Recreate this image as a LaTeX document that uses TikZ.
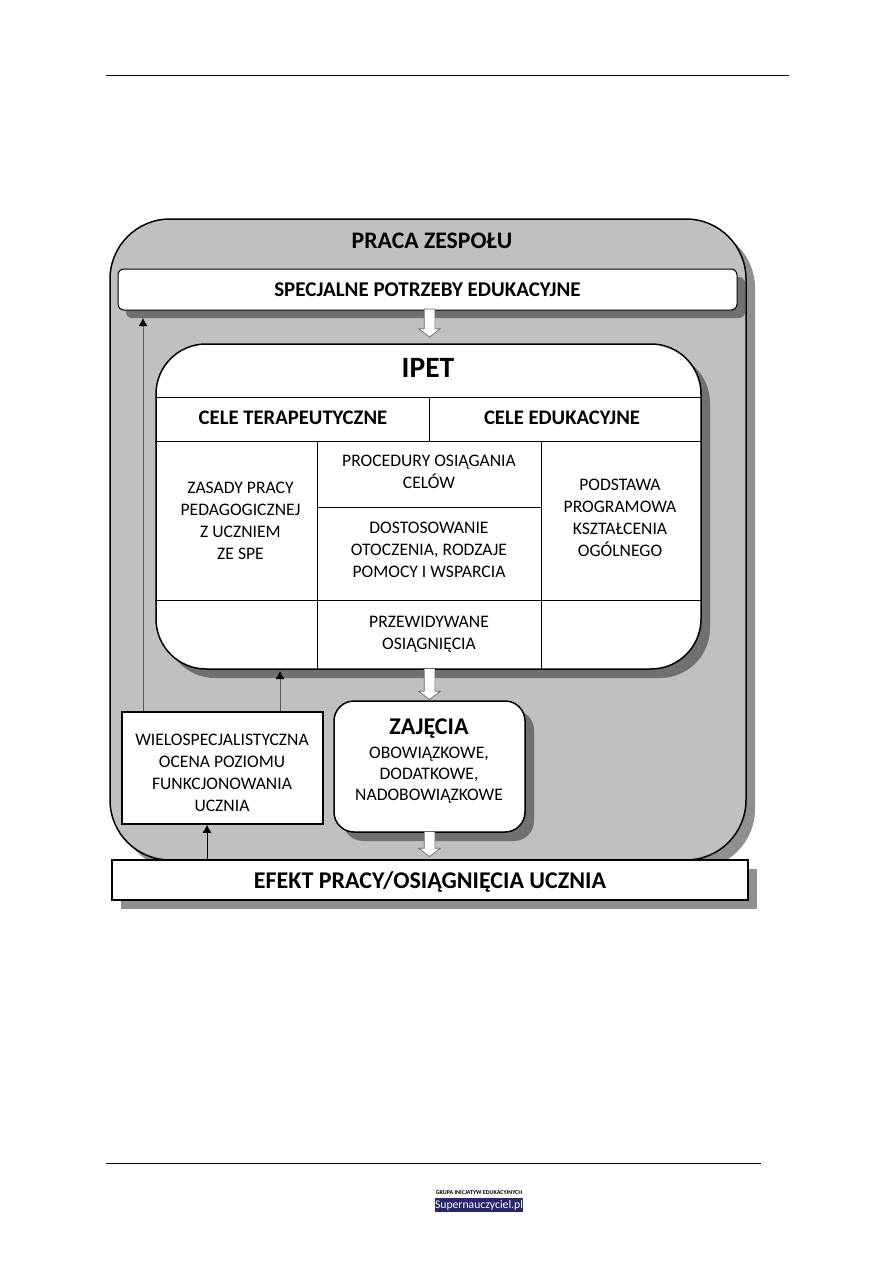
\documentclass[tikz,border=0pt]{standalone}
\usepackage{fontspec}
\setmainfont{Carlito}
\usetikzlibrary{calc,arrows.meta,shapes.arrows,shadows}

\definecolor{panel}{HTML}{C0C0C0}
\definecolor{lightshadow}{HTML}{909090}
\definecolor{darkshadow}{HTML}{707070}
\definecolor{logoblue}{HTML}{26266E}

\tikzset{
	box/.style={draw,fill=white,rectangle,inner sep=0pt,align=center,line width=1.5pt},
	softshadow/.style={drop shadow={shadow xshift=#1,shadow yshift=-#1,fill=darkshadow,opacity=1}},
	paleshadow/.style={drop shadow={shadow xshift=9pt,shadow yshift=-9pt,fill=lightshadow,opacity=1}},
	plain/.style={font=\fontsize{17.6}{21.8}\selectfont,align=center},
	heading/.style={font=\fontsize{20.7}{24}\selectfont\bfseries,align=center},
	blockarrow/.style={draw=black!60,fill=white,line width=.7pt,shape=single arrow,rotate=-90,inner xsep=0pt,inner ysep=5pt,
		single arrow head extend=5.5pt,single arrow tip angle=105},
	link/.style={line width=1pt,-{Latex[length=8pt,width=9pt,black]}},
	rule/.style={line width=1pt},
}

\begin{document}
\begin{tikzpicture}[x=1pt,y=-1pt]
	\useasboundingbox (0,0) rectangle (893,1263);

	\coordinate (ruleTopA) at (106,75);
	\coordinate (ruleTopB) at (789,75);
	\coordinate (ruleBotA) at (106,1163);
	\coordinate (ruleBotB) at (761,1163);
	\draw[rule] (ruleTopA) -- (ruleTopB); %page header
	\draw[rule] (ruleBotA) -- (ruleBotB); %page footer

	\node[box,paleshadow,fill=panel,rounded corners=60pt,minimum width=636pt,minimum height=641pt] (zespol) at (428,539.5) {};
	\node[heading,font=\fontsize{23.7}{26}\selectfont\bfseries] (zespolLabel) at (432,241) {PRACA ZESPOŁU};

	\node[box,softshadow=8pt,line width=1pt,rounded corners=6pt,minimum width=619pt,minimum height=41pt,
		font=\fontsize{21}{24}\selectfont\bfseries] (spe) at (427.5,289.5) {SPECJALNE POTRZEBY EDUKACYJNE};

	\node[box,softshadow=9pt,rounded corners=50pt,minimum width=545pt,minimum height=325pt] (ipet) at (428.5,506.5) {};
	\node[font=\fontsize{29.5}{34}\selectfont\bfseries] (ipetLabel) at (428,368) {IPET};

	%table inside IPET
	\coordinate (r1) at (0,397);
	\coordinate (r2) at (0,441);
	\coordinate (r3) at (0,507);
	\coordinate (r4) at (0,600);
	\coordinate (c1) at (317,0);
	\coordinate (c2) at (429,0);
	\coordinate (c3) at (541,0);
	\draw[rule] (ipet.west |- r1) -- (ipet.east |- r1);
	\draw[rule] (ipet.west |- r2) -- (ipet.east |- r2);
	\draw[rule] (ipet.west |- r4) -- (ipet.east |- r4);
	\draw[rule] (c1 |- r3) -- (c3 |- r3);
	\draw[rule] (c2 |- r1) -- (c2 |- r2);
	\draw[rule] (c1 |- r2) -- (c1 |- ipet.south);
	\draw[rule] (c3 |- r2) -- (c3 |- ipet.south);

	\node[heading] (celeTer) at (293,418) {CELE TERAPEUTYCZNE};
	\node[heading] (celeEdu) at (562,418) {CELE EDUKACYJNE};
	\node[plain] (zasady) at (240.5,521) {ZASADY PRACY\\PEDAGOGICZNEJ\\Z UCZNIEM\\ZE SPE};
	\node[plain] (procedury) at (429,472) {PROCEDURY OSIĄGANIA\\CELÓW};
	\node[plain] (dostosowanie) at (429,550) {DOSTOSOWANIE\\OTOCZENIA, RODZAJE\\POMOCY I WSPARCIA};
	\node[plain] (podstawa) at (620,518) {PODSTAWA\\PROGRAMOWA\\KSZTAŁCENIA\\OGÓLNEGO};
	\node[plain] (przewidywane) at (429,634) {PRZEWIDYWANE\\OSIĄGNIĘCIA};

	\node[box,minimum width=201pt,minimum height=112pt] (ocena) at (222.5,768) {};
	\node[plain] (ocenaLabel) at (222,773) {WIELOSPECJALISTYCZNA\\OCENA POZIOMU\\FUNKCJONOWANIA\\UCZNIA};

	\node[box,softshadow=9pt,rounded corners=20pt,minimum width=191pt,minimum height=131pt] (zajecia) at (429.5,766.5) {};
	\node[font=\fontsize{24}{27}\selectfont\bfseries] (zajeciaTitle) at (429,729) {ZAJĘCIA};
	\node[plain,font=\fontsize{17.6}{21}\selectfont] (zajeciaLabel) at (429,775) {OBOWIĄZKOWE,\\DODATKOWE,\\NADOBOWIĄZKOWE};

	\node[blockarrow,minimum height=28pt] (strzalkaA) at (429.5,321) {};
	\node[blockarrow,minimum height=31pt] (strzalkaB) at (429.5,682) {};
	\node[blockarrow,minimum height=25pt] (strzalkaC) at (429.5,842) {};

	\node[box,paleshadow,minimum width=636pt,minimum height=40pt] (efekt) at (430,880) {};
	\node[font=\fontsize{24}{27}\selectfont\bfseries] (efektLabel) at (430,882) {EFEKT PRACY/OSIĄGNIĘCIA UCZNIA};

	\coordinate (a) at (143,318);
	\coordinate (b) at (280,671);
	\coordinate (c) at (207,0);
	\draw[link,black!65] (ocena.north -| a) -- (a);
	\draw[link,black!65] (ocena.north -| b) -- (b);
	\draw[link] (efekt.north -| c) -- (ocena.south -| c);

	%logo in the footer
	\node[font=\fontsize{6}{6}\selectfont\bfseries,inner sep=0pt] (grupa) at (479,1193) {GRUPA INICJATYW EDUKACYJNYCH};
	\node[fill=logoblue,text=white,font=\fontsize{11.7}{13}\selectfont,inner sep=0pt,minimum width=88pt,minimum height=14pt] (logo) at (479,1205) {Supernauczyciel.pl};
\end{tikzpicture}
\end{document}
